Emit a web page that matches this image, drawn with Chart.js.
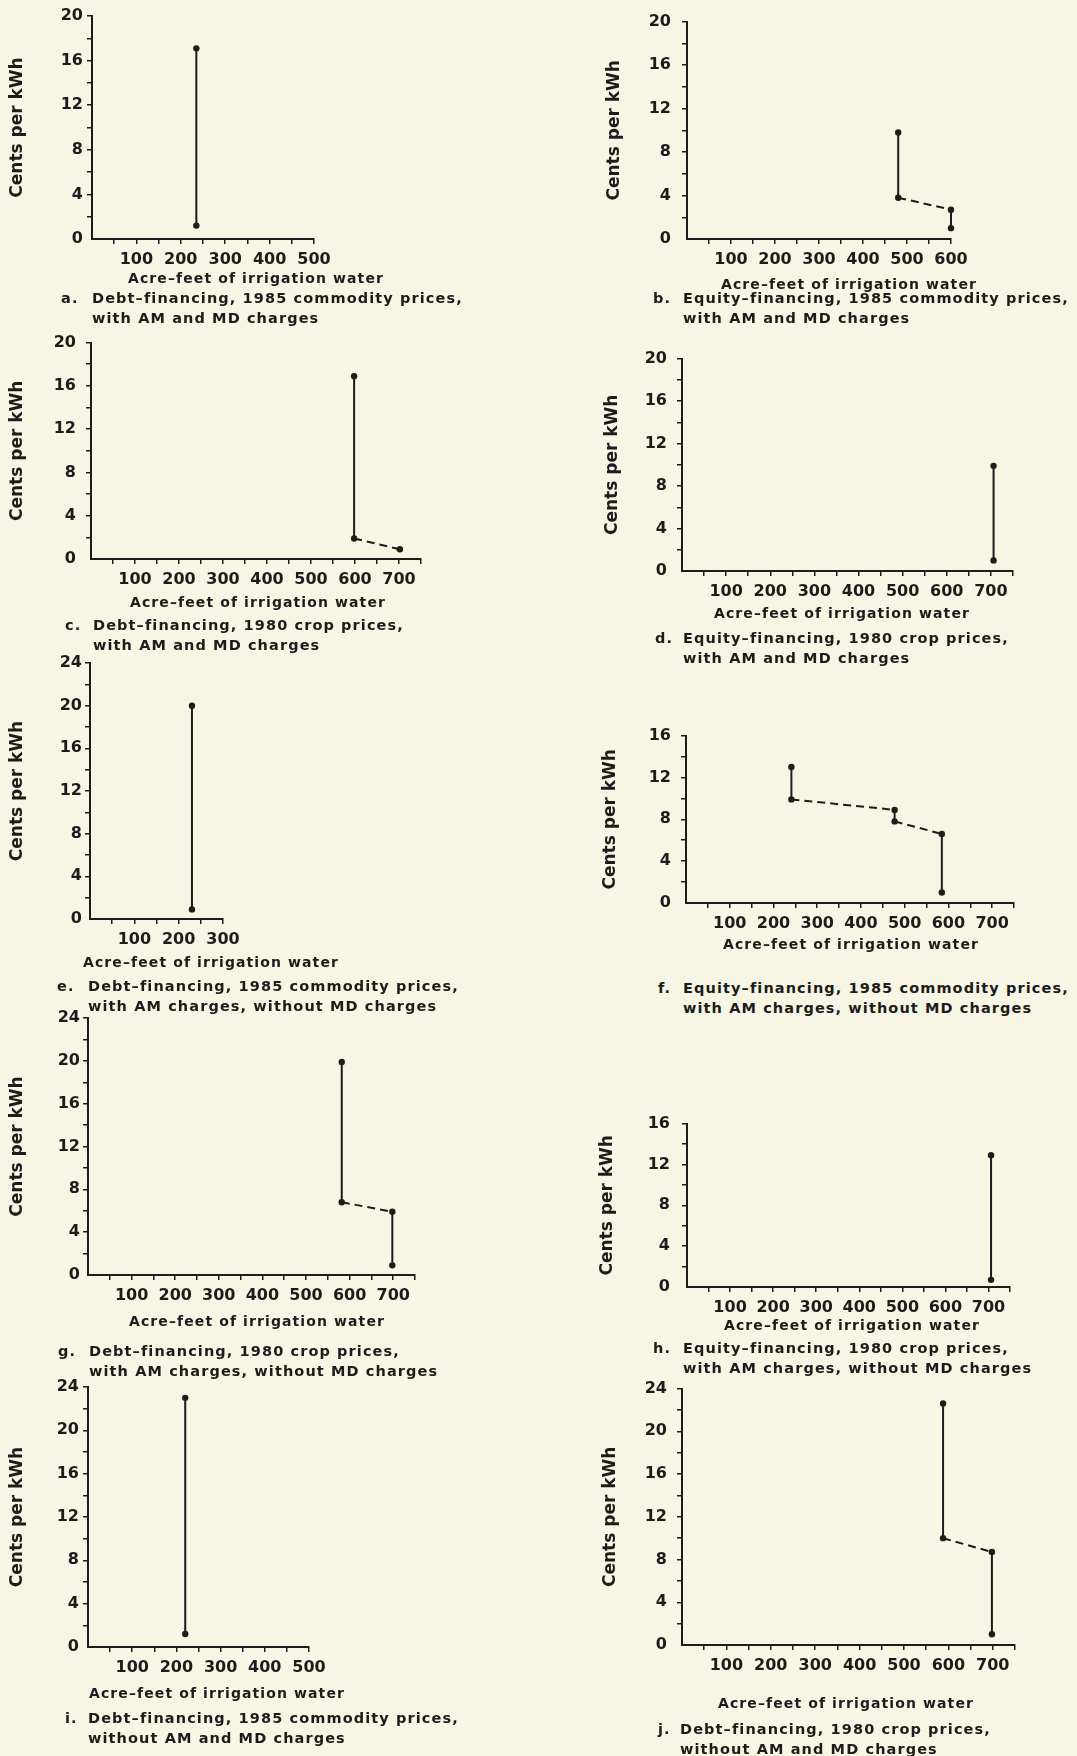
<!DOCTYPE html>
<html lang="en">
<head>
<meta charset="UTF-8">
<title>Cents per kWh and acre-feet of irrigation water</title>
<script src="https://cdn.jsdelivr.net/npm/chart.js"></script>
<style>
  body { margin: 0; background: #f7f5e3; }
  #page {
    position: relative; width: 1077px; height: 1756px; overflow: hidden;
    font-family: "DejaVu Sans", "Liberation Sans", sans-serif; font-weight: bold; color: #1c1c1c;
  }
  canvas { position: absolute; }
  .xtitle {
    position: absolute; font-size: 14px; letter-spacing: 1.1px; white-space: nowrap;
    transform: translate(-50%, -50%);
  }
  .caption {
    position: absolute; font-size: 14.5px; line-height: 20px; letter-spacing: 1.1px; white-space: nowrap;
  }
  .caption .lbl { position: absolute; }
</style>
</head>
<body>
<div id="page"></div>

<script>
    // panel letters and caption text
    var letters = ['a', 'b', 'c', 'd', 'e', 'f', 'g', 'h', 'i', 'j'];
    var captionLine1 = [
        'Debt–financing, 1985 commodity prices,',
        'Equity–financing, 1985 commodity prices,',
        'Debt–financing, 1980 crop prices,',
        'Equity–financing, 1980 crop prices,',
        'Debt–financing, 1985 commodity prices,',
        'Equity–financing, 1985 commodity prices,',
        'Debt–financing, 1980 crop prices,',
        'Equity–financing, 1980 crop prices,',
        'Debt–financing, 1985 commodity prices,',
        'Debt–financing, 1980 crop prices,'
    ];
    var captionLine2 = [
        'with AM and MD charges',
        'with AM and MD charges',
        'with AM and MD charges',
        'with AM and MD charges',
        'with AM charges, without MD charges',
        'with AM charges, without MD charges',
        'with AM charges, without MD charges',
        'with AM charges, without MD charges',
        'without AM and MD charges',
        'without AM and MD charges'
    ];
    var xAxisTitle = 'Acre–feet of irrigation water';
    var yAxisTitle = 'Cents per kWh';

    // points of each panel: acre-feet (x) and cents per kWh (y)
    var acreFeet = [
        [235, 235],
        [480, 480, 600, 600],
        [598, 598, 702],
        [706, 706],
        [230, 230],
        [241, 241, 477, 477, 585, 585],
        [582, 582, 698, 698],
        [706, 706],
        [220, 220],
        [588, 588, 698, 698]
    ];
    var centsPerKWh = [
        [17.1, 1.2],
        [9.8, 3.8, 2.7, 1.0],
        [16.9, 1.9, 0.9],
        [9.9, 1.0],
        [20.0, 0.9],
        [13.0, 9.9, 8.9, 7.8, 6.6, 1.0],
        [19.9, 6.8, 5.9, 0.9],
        [12.9, 0.7],
        [23.0, 1.2],
        [22.6, 10.0, 8.7, 1.0]
    ];
    // 1 = the segment after this point is dashed
    var dashedSeg = [
        [0],
        [0, 1, 0],
        [0, 1],
        [0],
        [0],
        [0, 1, 0, 1, 0],
        [0, 1, 0],
        [0],
        [0],
        [0, 1, 0]
    ];
    var xMax = [500, 600, 750, 750, 300, 750, 750, 750, 500, 750];
    var yMax = [20, 20, 20, 20, 24, 16, 24, 16, 24, 24];

    // where each plot sits on the page (y title x, plot area left/top/right/bottom, y label gap)
    var boxes = [
        { tx: 17,  l: 92,  t: 16,   r: 314,  b: 239,  gap: 4 },
        { tx: 614, l: 687, t: 15,   r: 951,  b: 239,  gap: 11 },
        { tx: 17,  l: 91,  t: 337,  r: 421,  b: 559,  gap: 10 },
        { tx: 612, l: 682, t: 353,  r: 1013, b: 571,  gap: 10 },
        { tx: 17,  l: 90,  t: 663,  r: 223,  b: 919,  gap: 3 },
        { tx: 610, l: 686, t: 730,  r: 1014, b: 903,  gap: 10 },
        { tx: 17,  l: 88,  t: 1018, r: 415,  b: 1275, gap: 3 },
        { tx: 607, l: 687, t: 1116, r: 1010, b: 1287, gap: 12 },
        { tx: 17,  l: 88,  t: 1387, r: 309,  b: 1647, gap: 4 },
        { tx: 610, l: 682, t: 1383, r: 1015, b: 1645, gap: 10 }
    ];
    var xTitlePos = [[256, 278], [849, 284], [258, 602], [842, 613], [211, 962],
                     [851, 944], [257, 1321], [852, 1325], [217, 1693], [846, 1703]];
    var captionPos = [[61, 92, 298], [653, 683, 298], [65, 93, 625], [655, 683, 638], [57, 88, 986],
                      [658, 683, 988], [58, 89, 1351], [653, 683, 1348], [65, 88, 1718], [658, 680, 1729]];

    var ink = '#1c1c1c';
    Chart.defaults.font.family = '"DejaVu Sans", "Liberation Sans", sans-serif';
    Chart.defaults.font.size = 16;
    Chart.defaults.font.weight = 'bold';
    Chart.defaults.color = ink;

    function tickColor(c) {
        return (c.tick && c.tick.value === 0) ? 'rgba(0,0,0,0)' : ink;
    }

    var page = document.getElementById('page');

    letters.forEach(function (letter, i) {
        var bx = boxes[i];
        var cl = bx.tx - 18;
        var ct = bx.t - 14;
        var canvas = document.createElement('canvas');
        canvas.width = bx.r + 30 - cl;
        canvas.height = bx.b - bx.t + 14 + 40;
        canvas.style.left = cl + 'px';
        canvas.style.top = ct + 'px';
        page.appendChild(canvas);

        var punkte = acreFeet[i].map(function (x, k) {
            return { x: x, y: centsPerKWh[i][k] };
        });

        new Chart(canvas.getContext('2d'), {
            type: 'scatter',
            data: {
                datasets: [{
                    data: punkte,
                    showLine: true,
                    borderColor: ink,
                    borderWidth: 2,
                    pointRadius: 3.2,
                    pointBackgroundColor: ink,
                    pointBorderWidth: 0,
                    clip: false,
                    segment: {
                        borderDash: function (ctx) {
                            return dashedSeg[i][ctx.p0DataIndex] ? [8, 5] : undefined;
                        }
                    }
                }]
            },
            options: {
                responsive: false,
                animation: false,
                layout: { padding: { left: 0, top: 14, right: 30, bottom: 0 } },
                plugins: { legend: { display: false }, tooltip: { enabled: false } },
                scales: {
                    x: {
                        type: 'linear', min: 0, max: xMax[i],
                        afterFit: function (s) { s.height = 40; },
                        ticks: {
                            stepSize: 50, maxTicksLimit: 40, autoSkip: false,
                            maxRotation: 0, minRotation: 0, padding: 6,
                            callback: function (v) { return (v > 0 && v % 100 === 0) ? v : ''; }
                        },
                        grid: { drawOnChartArea: false, drawTicks: true, tickLength: 5, lineWidth: 1.5, color: tickColor },
                        border: { display: true, color: ink, width: 2 }
                    },
                    y: {
                        min: 0, max: yMax[i],
                        afterFit: function (s) { s.width = bx.l - cl; },
                        ticks: {
                            stepSize: 2, maxTicksLimit: 40, autoSkip: false, padding: bx.gap,
                            callback: function (v) { return v % 4 === 0 ? v : ''; }
                        },
                        grid: { drawOnChartArea: false, drawTicks: true, tickLength: 5, lineWidth: 1.5, color: tickColor },
                        border: { display: true, color: ink, width: 2 },
                        title: {
                            display: true, text: yAxisTitle, color: ink,
                            padding: { top: 8, bottom: 0 },
                            font: { size: 17, weight: 'bold' }
                        }
                    }
                }
            }
        });

        // x axis title
        var xt = document.createElement('div');
        xt.className = 'xtitle';
        xt.textContent = xAxisTitle;
        xt.style.left = xTitlePos[i][0] + 'px';
        xt.style.top = xTitlePos[i][1] + 'px';
        page.appendChild(xt);

        // caption under the plot
        var cap = document.createElement('div');
        cap.className = 'caption';
        cap.style.left = captionPos[i][1] + 'px';
        cap.style.top = (captionPos[i][2] - 10) + 'px';
        var lbl = document.createElement('span');
        lbl.className = 'lbl';
        lbl.textContent = letter + '.';
        lbl.style.left = (captionPos[i][0] - captionPos[i][1]) + 'px';
        cap.appendChild(lbl);
        cap.appendChild(document.createTextNode(captionLine1[i]));
        cap.appendChild(document.createElement('br'));
        cap.appendChild(document.createTextNode(captionLine2[i]));
        page.appendChild(cap);
    });
</script>
</body>
</html>
